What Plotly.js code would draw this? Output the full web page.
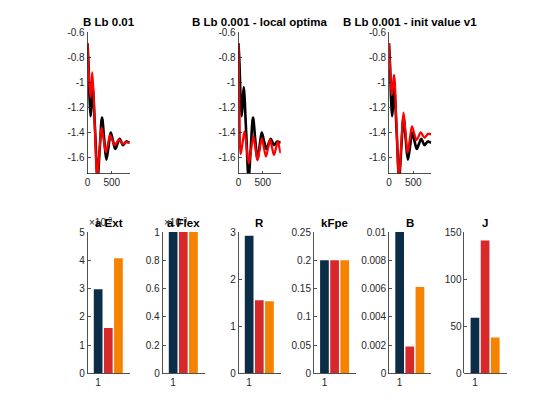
<!DOCTYPE html>
<html>
<head>
<meta charset="utf-8">
<script src="https://cdn.plot.ly/plotly-3.0.1.min.js"></script>
<style>
  html, body { margin: 0; padding: 0; background: #fff; }
  #chart { width: 560px; height: 420px; }
</style>
</head>
<body>
<div id="chart"></div>
<script>
// --- data ---
// measured response (black), same in the three top panels
var xMeas = [0, 20, 45, 65, 87, 108, 158, 208, 253, 298, 343, 388, 433, 478, 524, 570, 616, 663, 697, 730, 765, 800, 833, 866];
var yMeas = [-0.69, -0.85, -1.15, -1.27, -1.15, -1.04, -1.40, -1.76, -1.52, -1.28, -1.45, -1.615, -1.51, -1.40, -1.465, -1.53, -1.49, -1.45, -1.475, -1.50, -1.485, -1.47, -1.475, -1.48];

// simulated response (red), one per top panel
var xSim1 = [0, 25, 62, 81, 100, 150, 200, 244, 288, 333, 378, 421, 465, 510, 555, 600, 645, 688, 730, 765, 800, 833, 866];
var ySim1 = [-0.69, -0.92, -1.12, -1.02, -0.92, -1.34, -1.76, -1.56, -1.36, -1.46, -1.555, -1.49, -1.42, -1.46, -1.50, -1.478, -1.455, -1.472, -1.49, -1.483, -1.475, -1.478, -1.48];

var xSim2 = [0, 20, 45, 85, 125, 168, 212, 258, 305, 348, 392, 436, 480, 522, 565, 607, 650, 690, 730, 770, 811, 840, 866];
var ySim2 = [-0.69, -1.2, -1.57, -1.48, -1.39, -1.52, -1.645, -1.54, -1.43, -1.525, -1.62, -1.53, -1.445, -1.52, -1.59, -1.525, -1.458, -1.52, -1.578, -1.525, -1.47, -1.52, -1.565];

var xSim3 = [0, 25, 55, 80, 105, 155, 205, 252, 298, 340, 382, 427, 472, 518, 565, 608, 652, 690, 730, 768, 805, 836, 866];
var ySim3 = [-0.69, -0.90, -1.10, -1.02, -0.94, -1.35, -1.76, -1.50, -1.24, -1.40, -1.56, -1.455, -1.35, -1.405, -1.46, -1.43, -1.397, -1.42, -1.44, -1.425, -1.41, -1.41, -1.415];

var lineTitles = ["B Lb 0.01", "B Lb 0.001 - local optima", "B Lb 0.001 - init value v1"];
var lineYTicks = [-1.6, -1.4, -1.2, -1, -0.8, -0.6];
var lineYTickText = ["-1.6", "-1.4", "-1.2", "-1", "-0.8", "-0.6"];
var lineXTicks = [0, 500];

// parameter estimates, three runs each
var barPos = [1, 2, 3];
var aExt = [2.97e-3, 1.6e-3, 4.07e-3];
var aFlex = [1e-3, 1e-3, 1e-3];
var R = [2.92, 1.55, 1.53];
var kFpe = [0.2, 0.2, 0.2];
var B = [0.01, 0.0019, 0.0061];
var J = [59, 141, 38];
var barTitles = ["a Ext", "a Flex", "R", "kFpe", "B", "J"];

var aExtTicks = [0, 1e-3, 2e-3, 3e-3, 4e-3, 5e-3];
var aExtTickText = ["0", "1", "2", "3", "4", "5"];
var aFlexTicks = [0, 0.2e-3, 0.4e-3, 0.6e-3, 0.8e-3, 1e-3];
var aFlexTickText = ["0", "0.2", "0.4", "0.6", "0.8", "1"];
var RTicks = [0, 1, 2, 3];
var kFpeTicks = [0, 0.05, 0.1, 0.15, 0.2, 0.25];
var kFpeTickText = ["0", "0.05", "0.1", "0.15", "0.2", "0.25"];
var BTicks = [0, 0.002, 0.004, 0.006, 0.008, 0.01];
var BTickText = ["0", "0.002", "0.004", "0.006", "0.008", "0.01"];
var JTicks = [0, 50, 100, 150];

var runColors = ["#0b2d48", "#d7292c", "#f58300"];

// --- layout helpers (pixel boxes of the MATLAB axes) ---
var W = 560, H = 420;
var colLeft = [87.5, 162.5, 238.5, 313.8, 389, 464.3];
var colWidth = 42.3;
var topRow = [32, 173.5];
var botRow = [232, 373.3];

function xDom(col) {
  return [colLeft[col] / W, (colLeft[col] + colWidth) / W];
}
function yDom(row) {
  return [1 - row[1] / H, 1 - row[0] / H];
}

var tickFont = { family: "Liberation Sans, Arial, sans-serif", size: 10, color: "#262626" };
var titleFont = { family: "Liberation Sans, Arial, sans-serif", size: 11.5, color: "#000000", weight: "bold" };

function axisBase() {
  return {
    showline: true,
    linecolor: "#262626",
    linewidth: 0.8,
    ticks: "inside",
    ticklen: 3,
    tickwidth: 0.8,
    tickcolor: "#262626",
    showgrid: false,
    zeroline: false,
    tickfont: tickFont,
    fixedrange: true
  };
}

var traces = [];
var layout = {
  width: W,
  height: H,
  margin: { l: 0, r: 0, t: 0, b: 0 },
  paper_bgcolor: "#ffffff",
  plot_bgcolor: "#ffffff",
  showlegend: false,
  annotations: []
};

var n = 0;

// top row: measured vs simulated
var simX = [xSim1, xSim2, xSim3];
var simY = [ySim1, ySim2, ySim3];
var topCols = [0, 2, 4];

for (let i = 0; i < 3; i++) {
  n++;
  var xa = "x" + (n === 1 ? "" : n);
  var ya = "y" + (n === 1 ? "" : n);

  traces.push({
    x: xMeas, y: yMeas, xaxis: xa, yaxis: ya,
    type: "scatter", mode: "lines",
    line: { color: "#000000", width: 2.6, shape: "spline", smoothing: 1 },
    hoverinfo: "skip"
  });
  traces.push({
    x: simX[i], y: simY[i], xaxis: xa, yaxis: ya,
    type: "scatter", mode: "lines",
    line: { color: "#ff0000", width: 2.2, shape: "spline", smoothing: 1 },
    hoverinfo: "skip"
  });

  var xax = axisBase();
  xax.domain = xDom(topCols[i]);
  xax.range = [0, 870];
  xax.tickvals = lineXTicks;
  xax.ticktext = ["0", "500"];
  xax.anchor = ya;
  var yax = axisBase();
  yax.domain = yDom(topRow);
  yax.range = [-1.725, -0.6];
  yax.tickvals = lineYTicks;
  yax.ticktext = lineYTickText;
  yax.anchor = xa;
  layout["xaxis" + (n === 1 ? "" : n)] = xax;
  layout["yaxis" + (n === 1 ? "" : n)] = yax;

  layout.annotations.push({
    text: "<b>" + lineTitles[i] + "</b>", xref: "paper", yref: "paper",
    x: (colLeft[topCols[i]] + colWidth / 2) / W, y: 1 - 22 / H,
    xanchor: "center", yanchor: "middle", showarrow: false, font: titleFont
  });
}

// bottom row: parameter bars
var barData = [aExt, aFlex, R, kFpe, B, J];
var barRanges = [[0, 5e-3], [0, 1e-3], [0, 3], [0, 0.25], [0, 0.01], [0, 150]];
var barTicks = [aExtTicks, aFlexTicks, RTicks, kFpeTicks, BTicks, JTicks];
var barTickText = [aExtTickText, aFlexTickText, ["0", "1", "2", "3"], kFpeTickText, BTickText, ["0", "50", "100", "150"]];

for (let j = 0; j < 6; j++) {
  n++;
  var xa2 = "x" + n;
  var ya2 = "y" + n;

  traces.push({
    x: barPos, y: barData[j], xaxis: xa2, yaxis: ya2,
    type: "bar", width: 0.86,
    marker: { color: runColors, line: { width: 0 } },
    hoverinfo: "skip"
  });

  var bx = axisBase();
  bx.domain = xDom(j);
  bx.range = [-0.05, 4.12];
  bx.tickvals = [1];
  bx.ticktext = ["1"];
  bx.anchor = ya2;
  var by = axisBase();
  by.domain = yDom(botRow);
  by.range = barRanges[j];
  by.tickvals = barTicks[j];
  by.ticktext = barTickText[j];
  by.anchor = xa2;
  layout["xaxis" + n] = bx;
  layout["yaxis" + n] = by;

  // exponent label sits under the title for the scaled axes
  if (j < 2) {
    layout.annotations.push({
      text: "×10<sup>-3</sup>", xref: "paper", yref: "paper",
      x: (colLeft[j] - 1) / W, y: 1 - 230 / H,
      xanchor: "left", yanchor: "bottom", showarrow: false,
      font: { family: "Liberation Sans, Arial, sans-serif", size: 10, color: "#262626" }
    });
  }
  layout.annotations.push({
    text: "<b>" + barTitles[j] + "</b>", xref: "paper", yref: "paper",
    x: (colLeft[j] + colWidth / 2) / W, y: 1 - 222.7 / H,
    xanchor: "center", yanchor: "middle", showarrow: false, font: titleFont
  });
}

Plotly.newPlot("chart", traces, layout, { staticPlot: true, displayModeBar: false });
</script>
</body>
</html>
